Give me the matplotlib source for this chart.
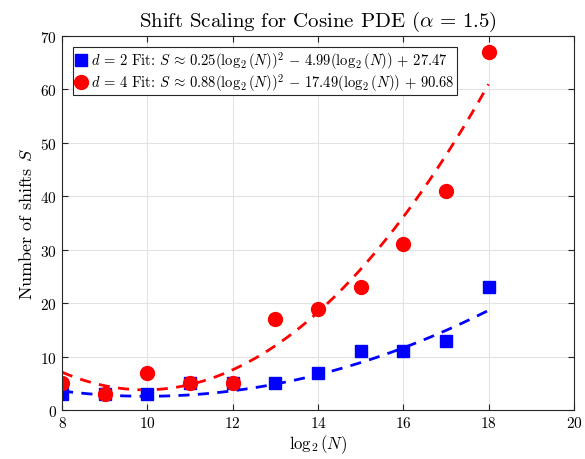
import numpy as np
import matplotlib
matplotlib.use('Agg')
import matplotlib.pyplot as plt

plt.rcParams['font.family'] = 'cmr10'
plt.rcParams['mathtext.fontset'] = 'cm'
plt.rcParams['axes.formatter.use_mathtext'] = True

# Data
log2N = [8, 9, 10, 11, 12, 13, 14, 15, 16, 17, 18]
shifts_d2 = [3, 3, 3, 5, 5, 5, 7, 11, 11, 13, 23]
shifts_d4 = [5, 3, 7, 5, 5, 17, 19, 23, 31, 41, 67]
coef_d2 = [0.25, -4.99, 27.47]
coef_d4 = [0.88, -17.49, 90.68]


def fit_label(d, c):
    return (r'$d\,=\,%d$ Fit: $S\,\approx\,%.2f(\log_2(N))^2\,-\,%.2f(\log_2(N))\,+\,%.2f$'
            % (d, c[0], -c[1], c[2]))


fig = plt.figure(figsize=(5.85, 4.6), dpi=100)
ax = fig.add_axes([0.106, 0.1065, 0.875, 0.813])

xf = np.linspace(log2N[0], log2N[-1], 200)
ax.plot(xf, np.polyval(coef_d2, xf), '--', color='blue', lw=2, dashes=(4, 3))
ax.plot(xf, np.polyval(coef_d4, xf), '--', color='red', lw=2, dashes=(4, 3))
ax.plot(log2N, shifts_d2, 's', color='blue', ms=8.5, ls='none',
        label=fit_label(2, coef_d2))
ax.plot(log2N, shifts_d4, 'o', color='red', ms=10, ls='none',
        label=fit_label(4, coef_d4))

ax.set_xlim(8, 20)
ax.set_ylim(0, 70)
ax.set_xticks(np.arange(8, 21, 2))
ax.set_yticks(np.arange(0, 71, 10))
ax.grid(True, color='#e3e3e3', lw=0.8)
ax.set_axisbelow(True)
ax.tick_params(direction='in', top=True, right=True, labelsize=11,
               color='#262626', length=4)
for s in ax.spines.values():
    s.set_color('#262626')

ax.set_xlabel(r'$\log_2(N)$', fontsize=12, labelpad=2)
ax.set_ylabel(r'Number of shifts $S$', fontsize=13)
ax.set_title(r'Shift Scaling for Cosine PDE ($\alpha\,=\,1.5$)', fontsize=15, pad=7)

leg = ax.legend(loc='upper left', fontsize=10.5, fancybox=False, framealpha=1,
                edgecolor='#262626', handlelength=0.8, handletextpad=0.3,
                borderpad=0.15, labelspacing=0.0, borderaxespad=0.75)
leg.get_frame().set_linewidth(0.8)

plt.savefig('out.png', dpi=100)
